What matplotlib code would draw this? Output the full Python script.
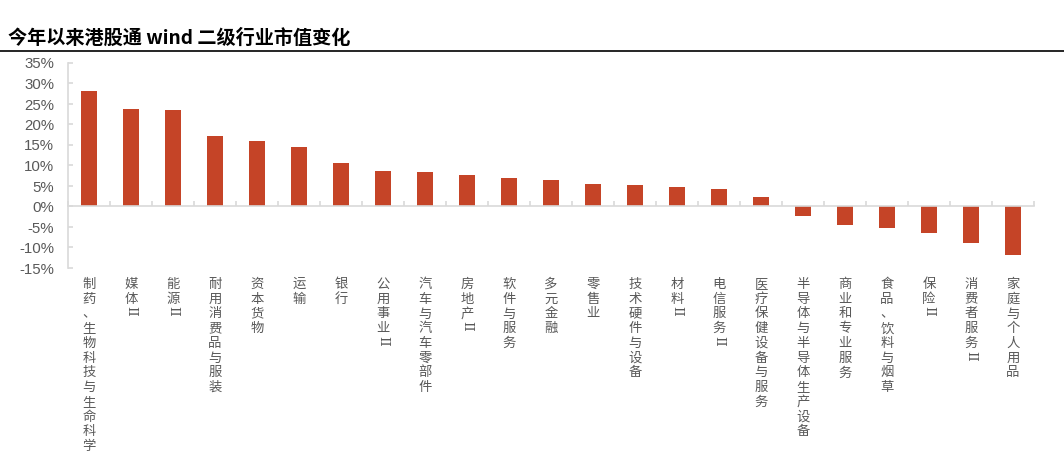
import numpy as np
import matplotlib
matplotlib.use('Agg')
import matplotlib.pyplot as plt
from matplotlib.lines import Line2D

plt.rcParams['font.family'] = ['Noto Sans CJK SC', 'DejaVu Sans']
plt.rcParams['axes.unicode_minus'] = False

# 行业名称（竖排显示）
industries = ['制药、生物科技与生命科学', '媒体II', '能源II', '耐用消费品与服装', '资本货物',
              '运输', '银行', '公用事业II', '汽车与汽车零部件', '房地产II', '软件与服务',
              '多元金融', '零售业', '技术硬件与设备', '材料II', '电信服务II',
              '医疗保健设备与服务', '半导体与半导体生产设备', '商业和专业服务',
              '食品、饮料与烟草', '保险II', '消费者服务II', '家庭与个人用品']
# 今年以来市值变化 (%)
changes = [28.2, 23.9, 23.5, 17.3, 16.0, 14.5, 10.6, 8.6, 8.3, 7.7, 6.9,
           6.4, 5.6, 5.2, 4.8, 4.3, 2.3, -2.3, -4.4, -5.2, -6.5, -9.0, -11.9]
yticks = [-15, -10, -5, 0, 5, 10, 15, 20, 25, 30, 35]
ytick_labels = ['-15%', '-10%', '-5%', '0%', '5%', '10%', '15%', '20%', '25%', '30%', '35%']

W, H = 1064, 461
fig = plt.figure(figsize=(W / 100, H / 100), dpi=100)
ax = fig.add_axes([68 / W, (H - 268) / H, (1034 - 68) / W, (268 - 63) / H])

grey = '#d9d9d9'
x = np.arange(len(industries))
ax.bar(x, changes, width=0.36, color='#c54427', zorder=2)

ax.set_xlim(-0.5, len(industries) - 0.5)
ax.set_ylim(-15, 35)
ax.set_yticks(yticks)
ax.set_yticklabels(ytick_labels, family='Liberation Sans', fontsize=10.8, color='#595959')
ax.set_xticks(np.arange(-0.5, len(industries), 1))
ax.tick_params(axis='x', direction='in', length=3.5, color=grey, width=1.2, labelbottom=False)
ax.tick_params(axis='y', direction='in', length=3.5, color=grey, width=1.2, pad=10)

for s in ['top', 'right']:
    ax.spines[s].set_visible(False)
ax.spines['left'].set_color(grey)
ax.spines['left'].set_linewidth(1.2)
ax.spines['bottom'].set_position(('data', 0))
ax.spines['bottom'].set_color(grey)
ax.spines['bottom'].set_linewidth(1.2)
ax.spines['bottom'].set_zorder(3)

# 竖排分类标签
step = 10.6
for i, name in enumerate(industries):
    tokens = []
    j = 0
    while j < len(name):
        if name[j:j + 2] == 'II':
            tokens.append('II')
            j += 2
        else:
            tokens.append(name[j])
            j += 1
    for k, t in enumerate(tokens):
        ax.annotate(t, xy=(i, 0), xycoords=ax.get_xaxis_transform(),
                    xytext=(0, -6.5 - k * step), textcoords='offset points',
                    ha='center', va='top', fontsize=9.6, color='#595959',
                    rotation=-90 if t == 'II' else 0,
                    family='DejaVu Serif' if t == 'II' else None,
                    annotation_clip=False)

# 标题与分隔线
fig.text(8 / W, 1 - 38 / H, '今年以来港股通 wind 二级行业市值变化', fontsize=13.8,
         fontweight='bold', ha='left', va='center', color='black')
fig.add_artist(Line2D([0, 1], [1 - 51 / H, 1 - 51 / H], color='black', lw=1.2,
                      transform=fig.transFigure))

fig.savefig('out.png', dpi=100)
